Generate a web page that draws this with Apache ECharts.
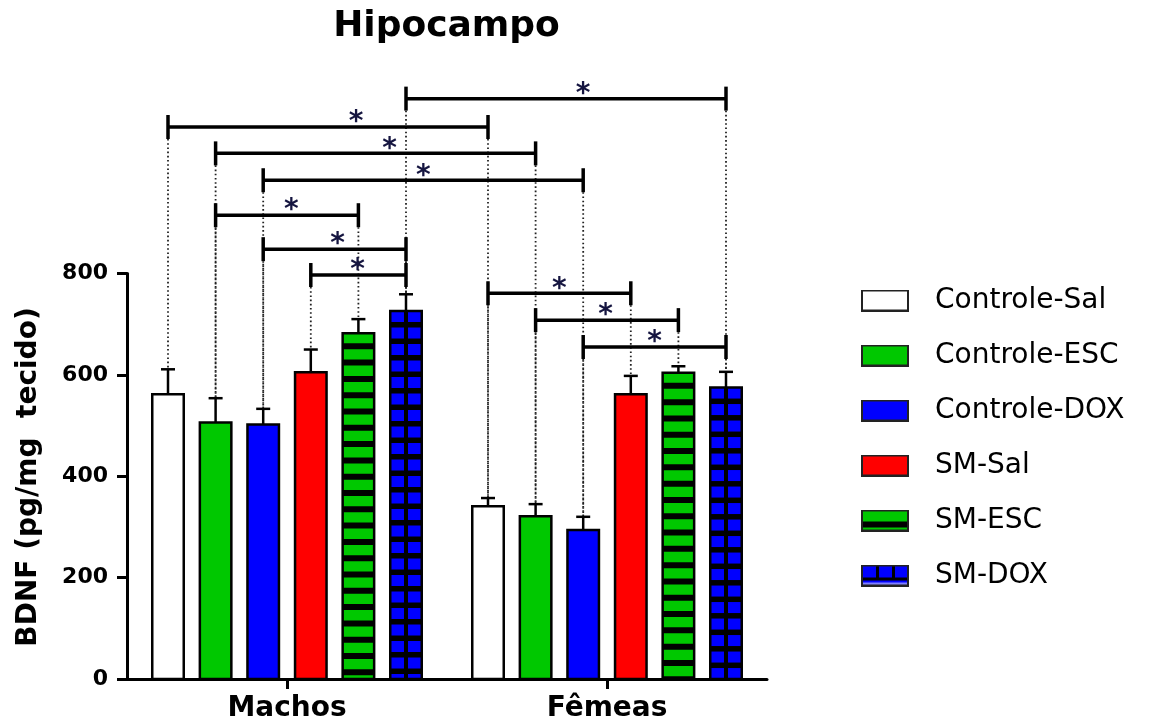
<!DOCTYPE html>
<html><head><meta charset="utf-8">
<script src="https://cdn.jsdelivr.net/npm/echarts@6/dist/echarts.min.js"></script>
<style>html,body{margin:0;padding:0;background:#fff}#c{width:1162px;height:727px}</style>
</head><body><div id="c"></div>
<script>
// ---------------- DATA ----------------
const categories = ['Machos', 'Fêmeas'];
const seriesNames = ['Controle-Sal', 'Controle-ESC', 'Controle-DOX', 'SM-Sal', 'SM-ESC', 'SM-DOX'];
const controleSal    = [562, 341];
const controleSalErr = [49, 16];
const controleEsc    = [506, 321];
const controleEscErr = [48, 24];
const controleDox    = [502, 294];
const controleDoxErr = [31, 26];
const smSal          = [605, 562];
const smSalErr       = [45, 36];
const smEsc          = [682, 604];
const smEscErr       = [28, 13];
const smDox          = [726, 575];
const smDoxErr       = [33, 31];
const yTicks = [0, 200, 400, 600, 800];
// significance brackets: [category A, series A, category B, series B, bracket level (y units)]
const brackets = [
  [0, 5, 1, 5, 1145],
  [0, 0, 1, 0, 1089],
  [0, 1, 1, 1, 1037],
  [0, 2, 1, 2, 984],
  [0, 1, 0, 4, 915],
  [0, 2, 0, 5, 848],
  [0, 3, 0, 5, 797],
  [1, 0, 1, 3, 761],
  [1, 1, 1, 4, 708],
  [1, 2, 1, 5, 655]
];
const bracketLabel = '*';

const means = [controleSal, controleEsc, controleDox, smSal, smEsc, smDox];
const errs  = [controleSalErr, controleEscErr, controleDoxErr, smSalErr, smEscErr, smDoxErr];

// ---------------- STYLE ----------------
const FILL = ['#ffffff', '#00c800', '#0000ff', '#ff0000', '#00c800', '#0000ff'];
const BAR_W = 34, BAR_STEP = 47.6, BORDER = 2.5, CAP_W = 14, ERR_LW = 2.5;
const BR_LW = 3.5, BR_TICK = 12, STAR_DY = 4;
const STAR_FRAC = [0.553, 0.5875, 0.544, 0.5, 0.53, 0.52, 0.49, 0.5, 0.49, 0.5];
const FONT = '"DejaVu Sans", "Liberation Sans", Arial, sans-serif';

function barCenter(api, cat, idx) {
  return api.coord([cat, 0])[0] + (idx - 2.5) * BAR_STEP;
}

function renderBar(sIdx) {
  return function (params, api) {
    const cat = api.value(0), mean = api.value(1), err = api.value(2);
    const cx = barCenter(api, cat, sIdx);
    const yB = api.coord([cat, 0])[1];
    const yT = api.coord([cat, mean])[1];
    const yE = api.coord([cat, mean + err])[1];
    const half = BAR_W / 2 - BORDER / 2;
    const x0 = cx - half, w = 2 * half;
    const ch = [];
    ch.push({ type: 'rect', shape: { x: x0, y: yT, width: w, height: yB - yT }, style: { fill: FILL[sIdx] } });
    if (sIdx === 4 || sIdx === 5) {
      const period = sIdx === 4 ? 16.3 : 16.5;
      const first = sIdx === 4 ? 10 : 11;
      const bh = sIdx === 4 ? 6 : 5.5;
      for (let y = yT + first; y < yB; y += period) {
        const y2 = Math.min(y + bh, yB);
        ch.push({ type: 'rect', shape: { x: x0, y: y, width: w, height: y2 - y }, style: { fill: '#000' } });
      }
      if (sIdx === 5) {
        ch.push({ type: 'rect', shape: { x: cx - 2, y: yT, width: 4, height: yB - yT }, style: { fill: '#000' } });
      }
    }
    ch.push({ type: 'rect', shape: { x: x0, y: yT, width: w, height: yB - yT },
      style: { fill: null, stroke: '#000', lineWidth: BORDER } });
    ch.push({ type: 'line', shape: { x1: cx, y1: yT, x2: cx, y2: yE }, style: { stroke: '#000', lineWidth: ERR_LW } });
    ch.push({ type: 'line', shape: { x1: cx - CAP_W / 2, y1: yE, x2: cx + CAP_W / 2, y2: yE }, style: { stroke: '#000', lineWidth: ERR_LW } });
    return { type: 'group', children: ch };
  };
}

function renderBracket(params, api) {
  const b = brackets[params.dataIndex];
  const xA = barCenter(api, b[0], b[1]);
  const xB = barCenter(api, b[2], b[3]);
  const y = api.coord([0, b[4]])[1];
  const yEA = api.coord([b[0], means[b[1]][b[0]] + errs[b[1]][b[0]]])[1];
  const yEB = api.coord([b[2], means[b[3]][b[2]] + errs[b[3]][b[2]]])[1];
  const dot = { stroke: '#222', lineWidth: 1.8, lineDash: [1.6, 2.6] };
  const solid = { stroke: '#000', lineWidth: BR_LW };
  const sx = xA + (xB - xA) * STAR_FRAC[params.dataIndex];
  return {
    type: 'group', children: [
      { type: 'line', shape: { x1: xA, y1: y + BR_TICK, x2: xA, y2: yEA }, style: dot },
      { type: 'line', shape: { x1: xB, y1: y + BR_TICK, x2: xB, y2: yEB }, style: dot },
      { type: 'line', shape: { x1: xA, y1: y, x2: xB, y2: y }, style: solid },
      { type: 'line', shape: { x1: xA, y1: y - BR_TICK, x2: xA, y2: y + BR_TICK }, style: solid },
      { type: 'line', shape: { x1: xB, y1: y - BR_TICK, x2: xB, y2: y + BR_TICK }, style: solid },
      { type: 'text', x: sx, y: y - STAR_DY, style: { text: bracketLabel, font: 'bold 28px ' + FONT, align: 'center', verticalAlign: 'middle', fill: '#151540' } }
    ]
  };
}

function makeIcon(i) {
  const c = document.createElement('canvas'); c.width = 69; c.height = 22;
  const g = c.getContext('2d');
  const W = 48, H = 22;
  g.fillStyle = FILL[i]; g.fillRect(1, 1, W - 2, H - 2);
  if (i === 4) { g.fillStyle = '#000'; g.fillRect(1, 12, W - 2, 6); }
  if (i === 5) {
    g.fillStyle = '#000';
    g.fillRect(15, 1, 3, 13); g.fillRect(31, 1, 3, 13); g.fillRect(1, 13, W - 2, 3);
    g.fillStyle = '#fff'; g.fillRect(2, 18.5, W - 4, 1);
  }
  g.strokeStyle = '#222'; g.lineWidth = 2; g.strokeRect(1, 1, W - 2, H - 2);
  return c.toDataURL();
}

const chart = echarts.init(document.getElementById('c'), null, { renderer: 'canvas' });

const series = seriesNames.map((name, s) => ({
  name: name,
  type: 'custom',
  renderItem: renderBar(s),
  itemStyle: { color: FILL[s] },
  data: categories.map((c, k) => [k, means[s][k], errs[s][k]]),
  z: 3
}));
series.push({
  name: 'brackets', type: 'custom', renderItem: renderBracket, clip: false, z: 2,
  data: brackets.map(b => [b[0], b[4]])
});

chart.setOption({
  animation: false,
  backgroundColor: '#fff',
  grid: { left: 127, right: 395, top: 273.5, bottom: 48, containLabel: false, outerBoundsMode: 'none' },
  xAxis: {
    type: 'category', data: categories, boundaryGap: true,
    axisLine: { show: true, lineStyle: { color: '#000', width: 3 } },
    axisTick: { show: true, alignWithLabel: true, length: 10, lineStyle: { color: '#000', width: 3 } },
    axisLabel: { color: '#000', fontFamily: FONT, fontWeight: 'bold', fontSize: 28, margin: 16 },
    splitLine: { show: false }
  },
  yAxis: {
    type: 'value', min: yTicks[0], max: yTicks[yTicks.length - 1], interval: 200,
    axisLine: { show: true, lineStyle: { color: '#000', width: 3 } },
    axisTick: { show: true, length: 10, lineStyle: { color: '#000', width: 3 } },
    axisLabel: { color: '#000', fontFamily: FONT, fontWeight: 'bold', fontSize: 22, margin: 19 },
    splitLine: { show: false }
  },
  legend: {
    orient: 'vertical', left: 861, top: 286.5, padding: 0, itemGap: 27,
    itemWidth: 69, itemHeight: 22, selectedMode: false,
    textStyle: { color: '#000', fontFamily: FONT, fontSize: 28, lineHeight: 22 },
    data: seriesNames.map((n, i) => ({ name: n, icon: 'image://' + makeIcon(i) }))
  },
  graphic: [
    { type: 'text', x: 446.5, y: 27, style: { text: 'Hipocampo', font: 'bold 36px ' + FONT, align: 'center', verticalAlign: 'middle', fill: '#000' } },
    { type: 'text', x: 29, y: 477, rotation: Math.PI / 2, style: { text: 'BDNF (pg/mg  tecido)', font: 'bold 28px ' + FONT, align: 'center', verticalAlign: 'middle', fill: '#000' } }
  ],
  series: series
});
</script>
</body></html>
